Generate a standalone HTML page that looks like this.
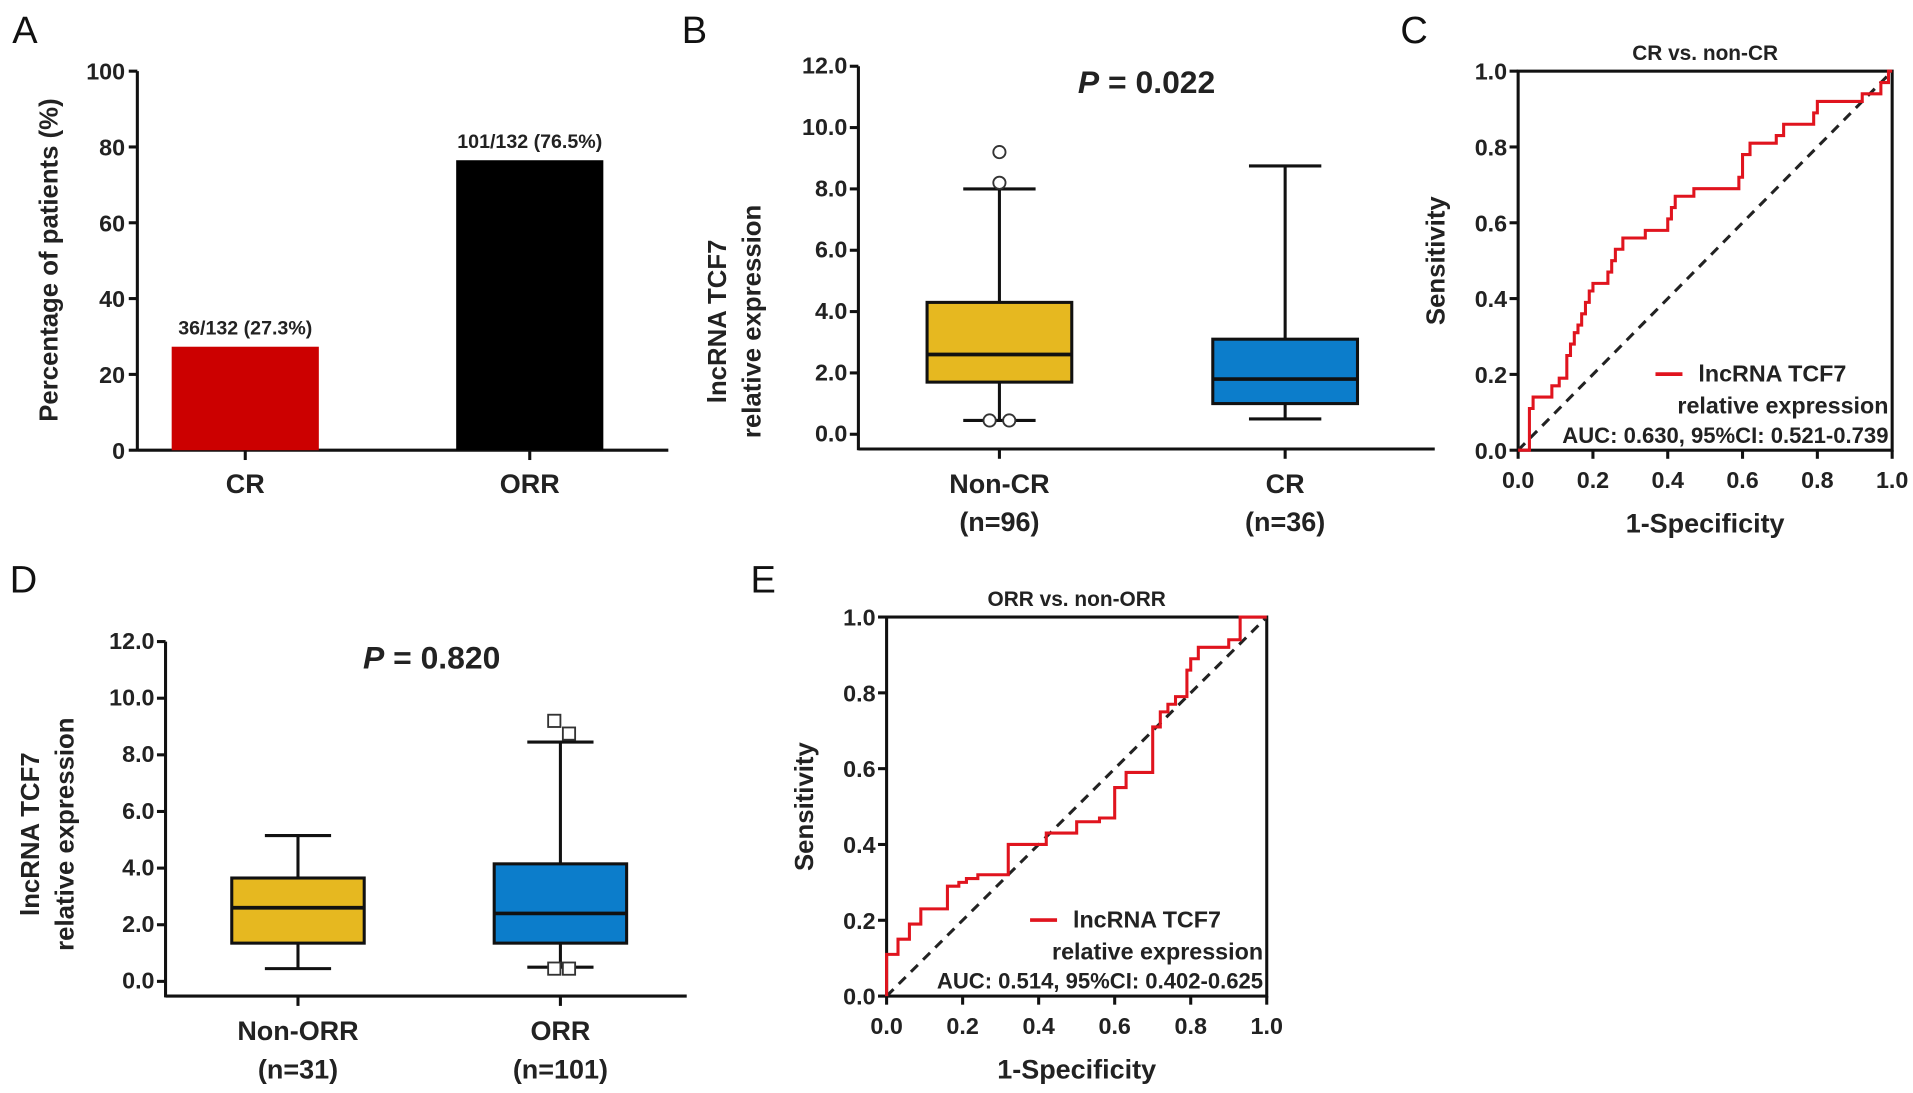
<!DOCTYPE html>
<html><head><meta charset="utf-8"><style>
html,body{margin:0;padding:0;background:#fff;}
svg{display:block;font-family:"Liberation Sans",Arial,sans-serif;}
.b{font-weight:bold;fill:#222;}
.l{font-weight:normal;fill:#111;}
</style></head><body>
<svg id="fig" width="1913" height="1093" viewBox="0 0 1560 891" preserveAspectRatio="none" xmlns="http://www.w3.org/2000/svg">
<g id="pA"></g>
<g id="pB"></g>
<g id="pC"></g>
<g id="pD"></g>
<g id="pE"></g>
</svg>
<script>
// Panel A data
const barCategories = ["CR", "ORR"];
const barValues = [27.3, 76.5];
const barLabels = ["36/132 (27.3%)", "101/132 (76.5%)"];
const barTicks = [0, 20, 40, 60, 80, 100];
// Panel B data
const boxBCategories = ["Non-CR", "CR"];
const boxBN = ["(n=96)", "(n=36)"];
const boxBMin = [0.45, 0.5];
const boxBQ1 = [1.7, 1.0];
const boxBMed = [2.6, 1.8];
const boxBQ3 = [4.3, 3.1];
const boxBMax = [8.0, 8.75];
const boxBOutliers = [[9.2, 8.2, 0.45, 0.45], []];
const boxTicks = [0, 2, 4, 6, 8, 10, 12];
// Panel D data
const boxDCategories = ["Non-ORR", "ORR"];
const boxDN = ["(n=31)", "(n=101)"];
const boxDMin = [0.45, 0.5];
const boxDQ1 = [1.35, 1.35];
const boxDMed = [2.6, 2.4];
const boxDQ3 = [3.65, 4.15];
const boxDMax = [5.15, 8.45];
const boxDOutliers = [[], [9.2, 8.75, 0.45, 0.45]];
// Panel C ROC
const rocCFpr = [0.03,0.03,0.04,0.04,0.09,0.09,0.11,0.11,0.13,0.13,0.14,0.14,0.15,0.15,0.16,0.16,0.17,0.17,0.18,0.18,0.19,0.19,0.2,0.2,0.24,0.24,0.25,0.25,0.26,0.26,0.28,0.28,0.31,0.31,0.34,0.34,0.40,0.40,0.41,0.41,0.42,0.42,0.47,0.47,0.59,0.59,0.60,0.60,0.62,0.62,0.69,0.69,0.71,0.71,0.79,0.79,0.80,0.80,0.92,0.92,0.97,0.97,0.99,0.99,1.0];
const rocCTpr = [0,0.11,0.11,0.14,0.14,0.17,0.17,0.19,0.19,0.25,0.25,0.28,0.28,0.31,0.31,0.33,0.33,0.36,0.36,0.39,0.39,0.42,0.42,0.44,0.44,0.47,0.47,0.5,0.5,0.53,0.53,0.56,0.56,0.56,0.56,0.58,0.58,0.61,0.61,0.64,0.64,0.67,0.67,0.69,0.69,0.72,0.72,0.78,0.78,0.81,0.81,0.83,0.83,0.86,0.86,0.89,0.89,0.92,0.92,0.94,0.94,0.97,0.97,1.0,1.0];
// Panel E ROC
const rocEFpr = [0,0,0.03,0.03,0.06,0.06,0.09,0.09,0.16,0.16,0.19,0.19,0.21,0.21,0.24,0.24,0.32,0.32,0.42,0.42,0.5,0.5,0.56,0.56,0.6,0.6,0.63,0.63,0.7,0.7,0.72,0.72,0.74,0.74,0.76,0.76,0.79,0.79,0.8,0.8,0.82,0.82,0.9,0.9,0.93,0.93,1.0];
const rocETpr = [0,0.11,0.11,0.15,0.15,0.19,0.19,0.23,0.23,0.29,0.29,0.30,0.30,0.31,0.31,0.32,0.32,0.40,0.40,0.43,0.43,0.46,0.46,0.47,0.47,0.55,0.55,0.59,0.59,0.71,0.71,0.75,0.75,0.77,0.77,0.79,0.79,0.86,0.86,0.89,0.89,0.92,0.92,0.94,0.94,1.0,1.0];
const rocTicks = [0, 0.2, 0.4, 0.6, 0.8, 1.0];

const NS = "http://www.w3.org/2000/svg";
function el(parent, tag, attrs, text) {
  const e = document.createElementNS(NS, tag);
  for (const k in attrs) e.setAttribute(k, attrs[k]);
  if (text !== undefined) e.textContent = text;
  parent.appendChild(e);
  return e;
}
function txt(parent, x, y, s, size, anchor, cls, name, rot) {
  const t = el(parent, "text", {x: x, y: y, "font-size": size, "text-anchor": anchor || "middle", "class": cls || "b"}, s);
  if (rot) t.setAttribute("transform", "rotate(-90 " + x + " " + y + ")");
  
  
  return t;
}
function line(parent, x1, y1, x2, y2, w, color, name, dash) {
  const l = el(parent, "line", {x1: x1, y1: y1, x2: x2, y2: y2, stroke: color || "#111", "stroke-width": w || 2.5});
  if (dash) l.setAttribute("stroke-dasharray", dash);
  
  
  return l;
}

// ---------- Panel A ----------
(function(){
  const g = document.getElementById("pA");
  const x0 = 112, xEnd = 545, y0 = 367, yTop = 58;
  const ya = v => y0 - (v / 100) * (y0 - yTop);
  const centers = [200, 432], bw = 120;
  txt(g, 10, 35, "A", 31, "start", "l", "panel-label-a");
  line(g, x0, yTop, x0, y0 + 1, 2.5, "#111", "y-axis-a");
  line(g, x0, y0, xEnd, y0, 2.5, "#111", "x-axis-a");
  barTicks.forEach(v => {
    line(g, x0 - 7, ya(v), x0, ya(v), 2.5, "#111", "y-tick-a");
    txt(g, x0 - 10, ya(v) + 7, String(v), 19, "end", "b", "y-tick-label-a");
  });
  const colors = ["#CC0000", "#000000"];
  barValues.forEach((v, i) => {
    const r = el(g, "rect", {x: centers[i] - bw/2, y: ya(v), width: bw, height: y0 - ya(v), fill: colors[i]});
    
    
    txt(g, centers[i], ya(v) - 10, barLabels[i], 16, "middle", "b", "bar-value-label");
    line(g, centers[i], y0, centers[i], y0 + 8, 2.5, "#111", "x-tick-a");
    txt(g, centers[i], 402, barCategories[i], 22, "middle", "b", "x-category-label-a");
  });
  txt(g, 47, 212, "Percentage of patients (%)", 21, "middle", "b", "y-axis-title-a", true);
})();

// ---------- Box panels ----------
function boxPanel(g, o) {
  const ya = v => o.y0 - v * (o.y0 - o.y12) / 12;
  txt(g, o.lx, o.ly, o.letter, 31, "start", "l", "panel-label-" + o.letter.toLowerCase());
  line(g, o.x0, o.y12, o.x0, o.yAxis + 1, 2.5, "#111", "y-axis");
  line(g, o.x0, o.yAxis, o.xEnd, o.yAxis, 2.5, "#111", "x-axis");
  boxTicks.forEach(v => {
    line(g, o.x0 - 7, ya(v), o.x0, ya(v), 2.5, "#111", "y-tick");
    txt(g, o.x0 - 9, ya(v) + 6, v.toFixed(1), 19, "end", "b", "y-tick-label");
  });
  const colors = ["#E6B820", "#0C7DCB"];
  o.cats.forEach((c, i) => {
    const cx = o.centers[i], hw = o.bw / 2;
    line(g, cx, ya(o.max[i]), cx, ya(o.min[i]), 2.5, "#111", "whisker-" + c.toLowerCase());
    line(g, cx - hw/2, ya(o.max[i]), cx + hw/2, ya(o.max[i]), 2.5, "#111", "whisker-cap-max");
    line(g, cx - hw/2, ya(o.min[i]), cx + hw/2, ya(o.min[i]), 2.5, "#111", "whisker-cap-min");
    const r = el(g, "rect", {x: cx - hw, y: ya(o.q3[i]), width: o.bw, height: ya(o.q1[i]) - ya(o.q3[i]), fill: colors[i], stroke: "#111", "stroke-width": 2.5});
    
    
    line(g, cx - hw, ya(o.med[i]), cx + hw, ya(o.med[i]), 3, "#111", "median-" + c.toLowerCase());
    o.out[i].forEach((v, k) => {
      const ox = o.outX[i][k];
      let m;
      if (o.square) m = el(g, "rect", {x: ox - 5, y: ya(v) - 5, width: 10, height: 10, fill: "#fff", stroke: "#333", "stroke-width": 1.5});
      else m = el(g, "circle", {cx: ox, cy: ya(v), r: 5, fill: "#fff", stroke: "#333", "stroke-width": 1.5});
      
      
    });
    line(g, cx, o.yAxis, cx, o.yAxis + 8, 2.5, "#111", "x-tick");
    txt(g, cx, o.yAxis + 36, c, 22, "middle", "b", "x-category-label");
    txt(g, cx, o.yAxis + 67, o.n[i], 22, "middle", "b", "x-n-label");
  });
  const p = txt(g, o.px, o.py, "", 26, "middle", "b", "p-value-label");
  el(p, "tspan", {"font-style": "italic"}, "P");
  el(p, "tspan", {}, " = " + o.pval);
  txt(g, o.t1x, o.ty, "lncRNA TCF7", 21, "middle", "b", "y-axis-title-line1", true);
  txt(g, o.t1x + 28, o.ty, "relative expression", 21, "middle", "b", "y-axis-title-line2", true);
}
boxPanel(document.getElementById("pB"), {letter: "B", lx: 556, ly: 35, x0: 700, xEnd: 1170, y0: 354, y12: 54, yAxis: 366,
  centers: [815, 1048], bw: 118, cats: boxBCategories, n: boxBN, min: boxBMin, q1: boxBQ1, med: boxBMed, q3: boxBQ3, max: boxBMax,
  out: boxBOutliers, outX: [[815, 815, 807, 823], []], square: false, px: 935, py: 76, pval: "0.022", t1x: 592, ty: 262});
boxPanel(document.getElementById("pD"), {letter: "D", lx: 8, ly: 483, x0: 135, xEnd: 560, y0: 800, y12: 523, yAxis: 812,
  centers: [243, 457], bw: 108, cats: boxDCategories, n: boxDN, min: boxDMin, q1: boxDQ1, med: boxDMed, q3: boxDQ3, max: boxDMax,
  out: boxDOutliers, outX: [[], [452, 464, 452, 464]], square: true, px: 352, py: 545, pval: "0.820", t1x: 32, ty: 680});

// ---------- ROC panels ----------
function rocPanel(g, o) {
  const W = o.x1 - o.x0, H = o.y0 - o.y1;
  const sx = v => o.x0 + v * W, sy = v => o.y0 - v * H;
  txt(g, o.lx, o.ly, o.letter, 31, "start", "l", "panel-label-" + o.letter.toLowerCase());
  txt(g, (o.x0 + o.x1) / 2, o.y1 - 9, o.title, 17, "middle", "b", "chart-title");
  const f = el(g, "rect", {x: o.x0, y: o.y1, width: W, height: H, fill: "none", stroke: "#111", "stroke-width": 2.5});
  
  
  line(g, o.x0, o.y0, o.x1, o.y1, 2.5, "#222", "reference-diagonal", "8,6");
  rocTicks.forEach(v => {
    line(g, o.x0 - 7, sy(v), o.x0, sy(v), 2.5, "#111", "y-tick");
    txt(g, o.x0 - 9, sy(v) + 7, v.toFixed(1), 19, "end", "b", "y-tick-label");
    line(g, sx(v), o.y0, sx(v), o.y0 + 7, 2.5, "#111", "x-tick");
    txt(g, sx(v), o.y0 + 31, v.toFixed(1), 19, "middle", "b", "x-tick-label");
  });
  let d = "M" + sx(0) + " " + sy(0);
  o.fpr.forEach((v, i) => { d += " L" + sx(v).toFixed(1) + " " + sy(o.tpr[i]).toFixed(1); });
  const p = el(g, "path", {d: d, fill: "none", stroke: "#E0141E", "stroke-width": 2.5});
  
  
  line(g, o.legX, o.legY, o.legX + 22, o.legY, 3, "#E0141E", "legend-swatch");
  txt(g, o.legX + 35, o.legY + 6, "lncRNA TCF7", 19, "start", "b", "legend-entry");
  txt(g, o.x1 - 3, o.legY + 32, "relative expression", 19, "end", "b", "legend-entry-line2");
  txt(g, o.x1 - 3, o.legY + 56, o.auc, 18, "end", "b", "auc-label");
  txt(g, (o.x0 + o.x1) / 2, o.y0 + 67, "1-Specificity", 22, "middle", "b", "x-axis-title");
  txt(g, o.x0 - 60, (o.y0 + o.y1) / 2, "Sensitivity", 21, "middle", "b", "y-axis-title", true);
}
rocPanel(document.getElementById("pC"), {letter: "C", lx: 1142, ly: 35, x0: 1238, x1: 1543, y0: 367, y1: 58,
  title: "CR vs. non-CR", fpr: rocCFpr, tpr: rocCTpr, legX: 1350, legY: 305, auc: "AUC: 0.630, 95%CI: 0.521-0.739"});
rocPanel(document.getElementById("pE"), {letter: "E", lx: 612, ly: 483, x0: 723, x1: 1033, y0: 812, y1: 503,
  title: "ORR vs. non-ORR", fpr: rocEFpr, tpr: rocETpr, legX: 840, legY: 750, auc: "AUC: 0.514, 95%CI: 0.402-0.625"});
</script>
</body></html>
